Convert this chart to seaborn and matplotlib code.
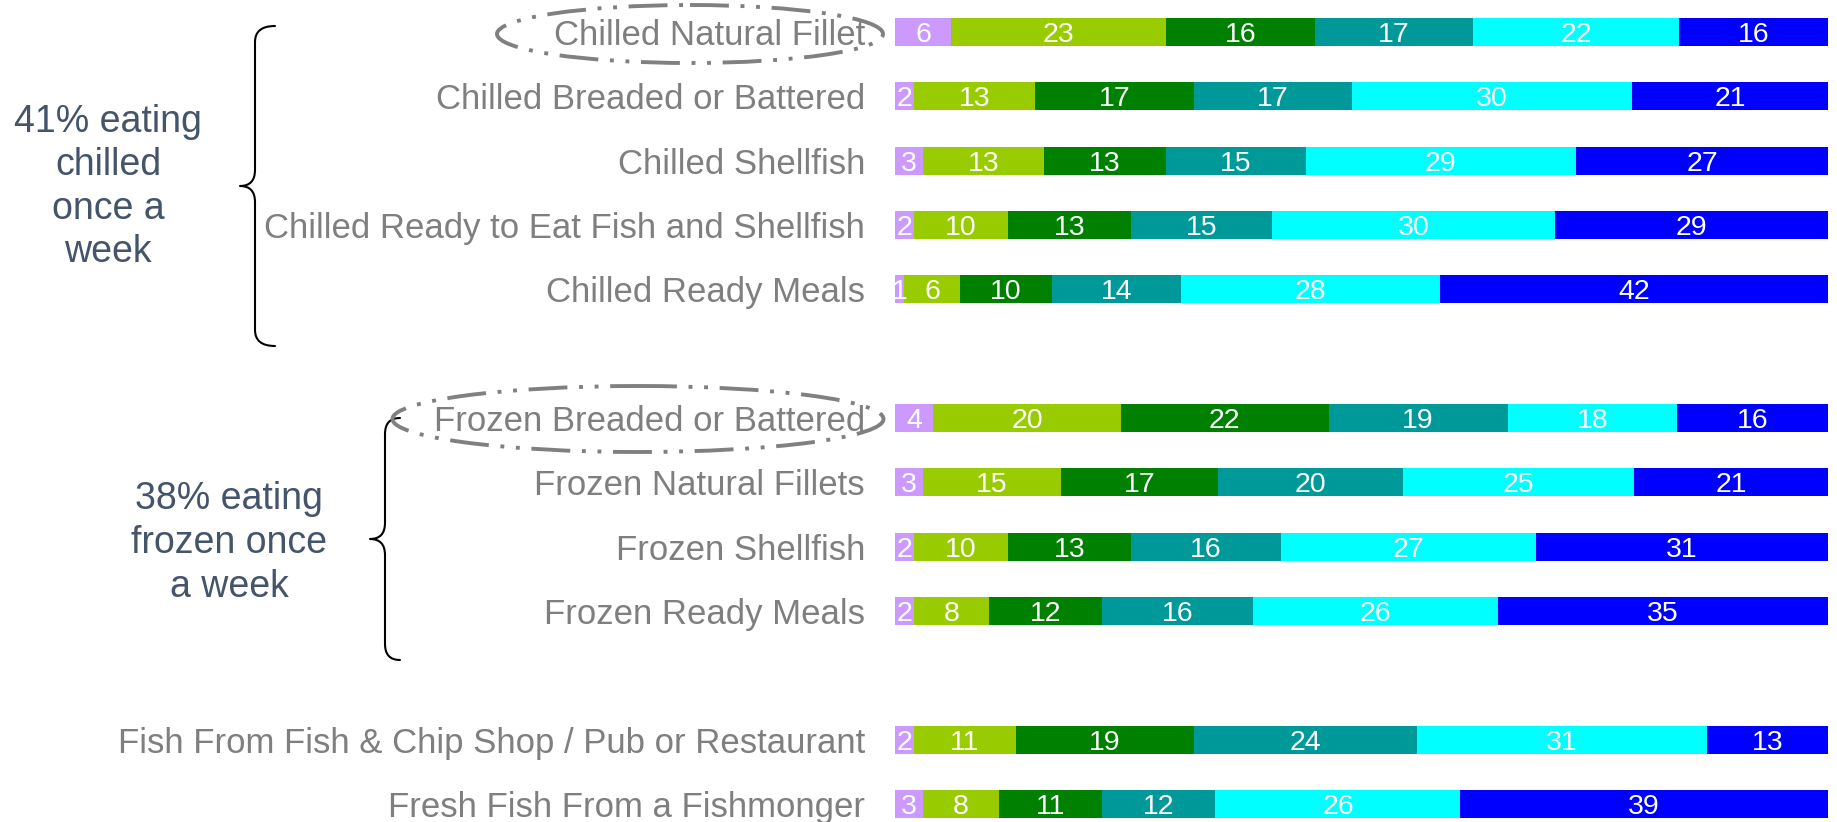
import numpy as np
import pandas as pd
import matplotlib
matplotlib.use("Agg")
import matplotlib.pyplot as plt
import seaborn as sns
from matplotlib.patches import Ellipse, PathPatch
from matplotlib.path import Path

# ---------------- data ----------------
categories = [
    "Chilled Natural Fillet",
    "Chilled Breaded or Battered",
    "Chilled Shellfish",
    "Chilled Ready to Eat Fish and Shellfish",
    "Chilled Ready Meals",
    "Frozen Breaded or Battered",
    "Frozen Natural Fillets",
    "Frozen Shellfish",
    "Frozen Ready Meals",
    "Fish From Fish & Chip Shop / Pub or Restaurant",
    "Fresh Fish From a Fishmonger",
]
band1 = [6, 2, 3, 2, 1, 4, 3, 2, 2, 2, 3]
band2 = [23, 13, 13, 10, 6, 20, 15, 10, 8, 11, 8]
band3 = [16, 17, 13, 13, 10, 22, 17, 13, 12, 19, 11]
band4 = [17, 17, 15, 15, 14, 19, 20, 16, 16, 24, 12]
band5 = [22, 30, 29, 30, 28, 18, 25, 27, 26, 31, 26]
band6 = [16, 21, 27, 29, 42, 16, 21, 31, 35, 13, 39]
bands = [band1, band2, band3, band4, band5, band6]
band_colors = ["#CC99FF", "#99CC00", "#008000", "#009999", "#00FFFF", "#0000FF"]

group_notes = ["41% eating\nchilled\nonce a\nweek", "38% eating\nfrozen once\na week"]
highlighted = ["Chilled Natural Fillet", "Frozen Breaded or Battered"]

# order with blank spacer slots between groups
order = categories[:5] + [" "] + categories[5:9] + ["  "] + categories[9:]

# ---------------- figure ----------------
sns.set_style("white")
plt.rcParams["font.family"] = ["Liberation Sans", "DejaVu Sans"]

W, H = 1837, 822
fig = plt.figure(figsize=(W / 100, H / 100), dpi=100)
ax_left, ax_w = 895, 933
ax = fig.add_axes([ax_left / W, 0, ax_w / W, 1])

vals = np.array(bands, dtype=float).T          # rows x bands
pct = vals / vals.sum(axis=1, keepdims=True) * 100
cum = pct.cumsum(axis=1)

df = pd.DataFrame({"category": categories})
for k in range(len(bands)):
    df[f"cum{k}"] = cum[:, k]

# stack by overdrawing cumulative totals from the outermost band inwards
for k in range(len(bands) - 1, -1, -1):
    sns.barplot(data=df, x=f"cum{k}", y="category", order=order, orient="h",
                color=band_colors[k], saturation=1, width=0.435,
                linewidth=0, errorbar=None, ax=ax)

for i, cat in enumerate(categories):
    pos = order.index(cat)
    for k in range(len(bands)):
        ax.text(cum[i, k] - pct[i, k] / 2, pos, f"{int(vals[i, k])}",
                ha="center", va="center_baseline", color="white", fontsize=20.5)

pitch = 64.33
first = 32
ax.set_xlim(0, 100)
ax.set_ylim((H - first) / pitch, -first / pitch)
ax.set_xlabel("")
ax.set_ylabel("")
ax.set_xticks([])
for s in ax.spines.values():
    s.set_visible(False)
ax.tick_params(axis="y", length=0, pad=21.6, labelsize=25, labelcolor="#7F7F7F")
ax.patch.set_alpha(0)

# ---------------- overlay annotations (pixel space) ----------------
ov = fig.add_axes([0, 0, 1, 1])
ov.set_xlim(0, W)
ov.set_ylim(H, 0)
ov.axis("off")
ov.patch.set_alpha(0)


def brace(xe, xl, xt, y0, y1, r=16):
    ym = (y0 + y1) / 2
    verts = [(xe, y0), (xl, y0), (xl, y0 + r),
             (xl, ym - r), (xl, ym), (xt, ym),
             (xl, ym), (xl, ym + r),
             (xl, y1 - r), (xl, y1), (xe, y1)]
    codes = [Path.MOVETO, Path.CURVE3, Path.CURVE3,
             Path.LINETO, Path.CURVE3, Path.CURVE3,
             Path.CURVE3, Path.CURVE3,
             Path.LINETO, Path.CURVE3, Path.CURVE3]
    ov.add_patch(PathPatch(Path(verts, codes), fill=False, lw=1.5, ec="black",
                           capstyle="round", joinstyle="round"))


brace(275, 255, 240, 26, 346)
brace(400, 385, 370, 418, 660)

ov.text(108, 187, group_notes[0], ha="center", va="center", multialignment="center",
        fontsize=27, color="#44546A", linespacing=1.27)
ov.text(229, 543, group_notes[1], ha="center", va="center", multialignment="center",
        fontsize=27, color="#44546A", linespacing=1.27)

dashdot = (0, (10, 3, 1, 3, 1, 3))
ov.add_patch(Ellipse((690, 34), 386, 58, fill=False, ec="#808080", lw=2.8,
                     linestyle=dashdot))
ov.add_patch(Ellipse((638, 419), 491, 66, fill=False, ec="#808080", lw=2.8,
                     linestyle=dashdot))

fig.savefig("out.png", dpi=100)
